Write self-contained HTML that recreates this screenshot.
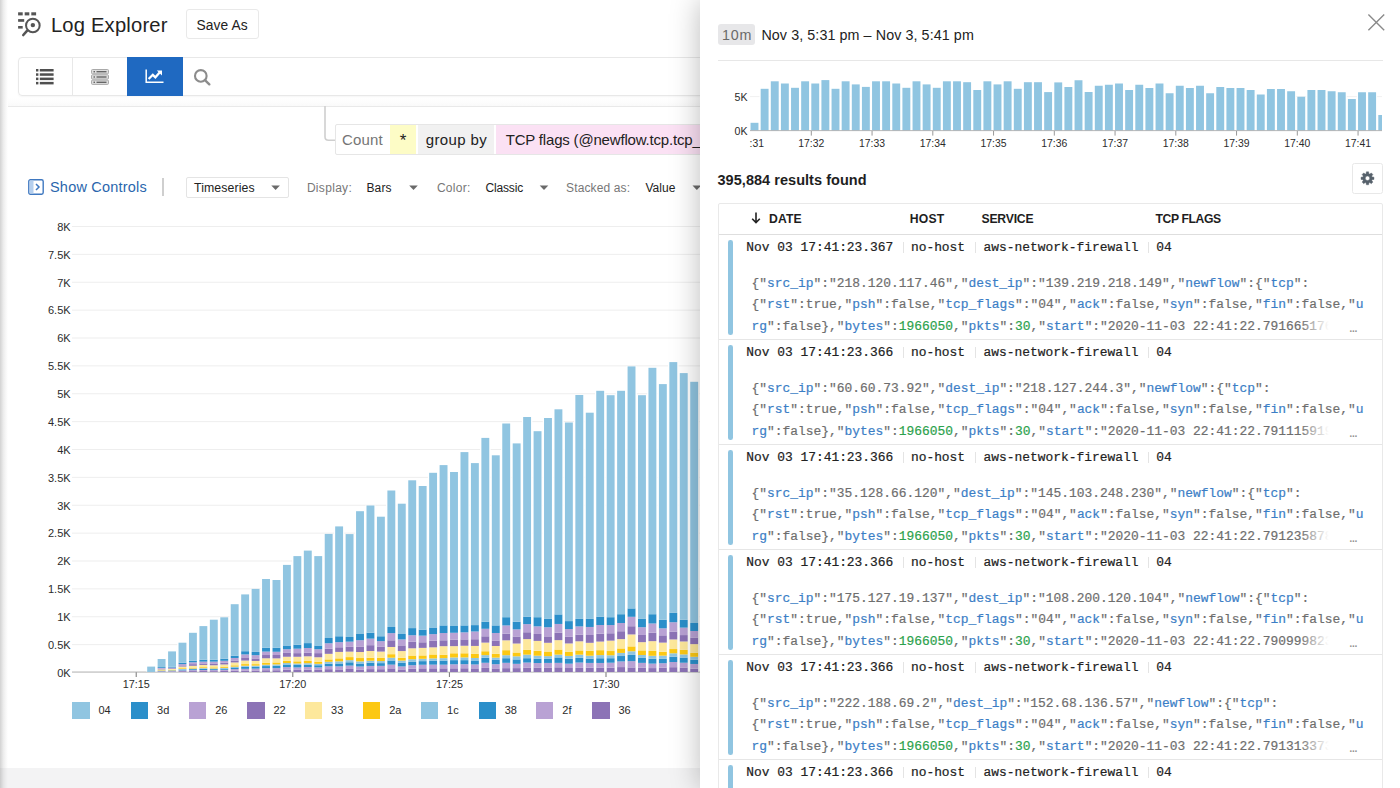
<!DOCTYPE html>
<html><head><meta charset="utf-8"><title>Log Explorer</title>
<style>
*{box-sizing:border-box;margin:0;padding:0}
html,body{width:1400px;height:788px;overflow:hidden;background:#fff}
body{font-family:"Liberation Sans",sans-serif;color:#222;position:relative}
.abs,.yl,.xl,.sw,.lt,.mxl{position:absolute}
.t{position:absolute;white-space:nowrap;line-height:1}
#left{position:absolute;left:0;top:0;width:700px;height:788px;overflow:hidden;background:#fff}
#edge{position:absolute;left:0;top:0;width:8px;height:788px;background:linear-gradient(90deg,#d2d2d2 0,#dedede 1.5px,#ededed 3.5px,#f8f8f8 6px,#fff 8px)}
#foot{position:absolute;left:0;top:767.5px;width:700px;height:21px;background:#f3f3f4}
.yl{left:20px;width:50.6px;text-align:right;font-size:11px;line-height:16px;color:#2b2b2b}
.xl{top:676.4px;width:60px;text-align:center;font-size:10.8px;line-height:16px;color:#2b2b2b}
.sw{top:702px;width:17.4px;height:17px}
.lt{top:702.4px;font-size:11px;line-height:16px;color:#2b2b2b}
#panel{position:absolute;left:700px;top:0;width:700px;height:788px;background:#fff;box-shadow:0 0 28px rgba(0,0,0,.27)}
.mxl{top:136px;width:60px;text-align:center;font-size:10.4px;line-height:16px;color:#2b2b2b}
.row{position:absolute;left:718.5px;width:663px;height:105px;border-bottom:1px solid #e6e6e6;font-family:"Liberation Mono",monospace;font-size:12.92px}
.rb{position:absolute;left:9.5px;top:5.3px;width:4.7px;height:94.8px;border-radius:2.3px;background:#90c5e1}
.rh span{position:absolute;top:5.8px;line-height:16px;white-space:pre;color:#222;-webkit-text-stroke:0.2px;margin-left:-718.5px}
.rh em{position:absolute;top:7.2px;height:11px;width:1px;background:#e4e4e4;margin-left:-718.5px}
.js{position:absolute;left:33px;white-space:pre;line-height:16px;color:#6e6e6e;-webkit-text-stroke:0.2px}
.js b{font-weight:normal;color:#3b7ec6}
.js i{font-style:normal;color:#2ca24d}
.row .js:nth-of-type(3){top:41.9px}
.row .js:nth-of-type(4){top:62.9px}
.row .js:nth-of-type(5){top:84.3px}
.fade{position:absolute;right:-2px;top:0;width:34px;height:18px;background:linear-gradient(90deg,rgba(255,255,255,0),#fff 85%)}
.ell{position:absolute;left:598px;top:2px;color:#888}
</style></head><body>
<div id="left">
<svg class="abs" style="left:0;top:0" width="700" height="788" viewBox="0 0 700 788">
<rect x="72" y="644.12" width="640" height="1" fill="#eeeeee"/><rect x="72" y="616.25" width="640" height="1" fill="#eeeeee"/><rect x="72" y="588.38" width="640" height="1" fill="#eeeeee"/><rect x="72" y="560.50" width="640" height="1" fill="#eeeeee"/><rect x="72" y="532.62" width="640" height="1" fill="#eeeeee"/><rect x="72" y="504.75" width="640" height="1" fill="#eeeeee"/><rect x="72" y="476.88" width="640" height="1" fill="#eeeeee"/><rect x="72" y="449.00" width="640" height="1" fill="#eeeeee"/><rect x="72" y="421.12" width="640" height="1" fill="#eeeeee"/><rect x="72" y="393.25" width="640" height="1" fill="#eeeeee"/><rect x="72" y="365.38" width="640" height="1" fill="#eeeeee"/><rect x="72" y="337.50" width="640" height="1" fill="#eeeeee"/><rect x="72" y="309.62" width="640" height="1" fill="#eeeeee"/><rect x="72" y="281.75" width="640" height="1" fill="#eeeeee"/><rect x="72" y="253.88" width="640" height="1" fill="#eeeeee"/><rect x="72" y="226.00" width="640" height="1" fill="#eeeeee"/><rect x="135.70" y="672" width="1" height="5" fill="#777"/><rect x="292.30" y="672" width="1" height="5" fill="#777"/><rect x="448.90" y="672" width="1" height="5" fill="#777"/><rect x="605.50" y="672" width="1" height="5" fill="#777"/>
<rect x="72" y="671.6" width="640" height="0.9" fill="#a6a6a6"/>
<rect x="145.90" y="666.60" width="10.54" height="4.80" fill="#fff"/><rect x="147.20" y="666.60" width="7.9" height="5.40" fill="#90c5e1"/><rect x="156.34" y="659.00" width="10.54" height="12.40" fill="#fff"/><rect x="157.64" y="671.62" width="7.9" height="0.38" fill="#8c73b6"/><rect x="157.64" y="671.23" width="7.9" height="0.39" fill="#b9a2d4"/><rect x="157.64" y="670.84" width="7.9" height="0.39" fill="#2b8fca"/><rect x="157.64" y="670.57" width="7.9" height="0.27" fill="#90c5e1"/><rect x="157.64" y="670.12" width="7.9" height="0.44" fill="#fcc813"/><rect x="157.64" y="669.37" width="7.9" height="0.76" fill="#fde89c"/><rect x="157.64" y="668.74" width="7.9" height="0.63" fill="#8c73b6"/><rect x="157.64" y="667.95" width="7.9" height="0.79" fill="#b9a2d4"/><rect x="157.64" y="667.10" width="7.9" height="0.85" fill="#2b8fca"/><rect x="157.64" y="659.00" width="7.9" height="8.10" fill="#90c5e1"/><rect x="166.79" y="651.40" width="10.54" height="20.00" fill="#fff"/><rect x="168.09" y="671.58" width="7.9" height="0.42" fill="#8c73b6"/><rect x="168.09" y="671.12" width="7.9" height="0.46" fill="#b9a2d4"/><rect x="168.09" y="670.59" width="7.9" height="0.53" fill="#2b8fca"/><rect x="168.09" y="670.32" width="7.9" height="0.27" fill="#90c5e1"/><rect x="168.09" y="669.84" width="7.9" height="0.48" fill="#fcc813"/><rect x="168.09" y="668.99" width="7.9" height="0.85" fill="#fde89c"/><rect x="168.09" y="668.32" width="7.9" height="0.66" fill="#8c73b6"/><rect x="168.09" y="667.58" width="7.9" height="0.75" fill="#b9a2d4"/><rect x="168.09" y="666.80" width="7.9" height="0.78" fill="#2b8fca"/><rect x="168.09" y="651.40" width="7.9" height="15.40" fill="#90c5e1"/><rect x="177.23" y="642.70" width="10.54" height="28.70" fill="#fff"/><rect x="178.53" y="671.19" width="7.9" height="0.81" fill="#8c73b6"/><rect x="178.53" y="670.41" width="7.9" height="0.78" fill="#b9a2d4"/><rect x="178.53" y="669.54" width="7.9" height="0.87" fill="#2b8fca"/><rect x="178.53" y="668.97" width="7.9" height="0.56" fill="#90c5e1"/><rect x="178.53" y="668.20" width="7.9" height="0.77" fill="#fcc813"/><rect x="178.53" y="666.55" width="7.9" height="1.65" fill="#fde89c"/><rect x="178.53" y="665.38" width="7.9" height="1.17" fill="#8c73b6"/><rect x="178.53" y="664.06" width="7.9" height="1.32" fill="#b9a2d4"/><rect x="178.53" y="662.70" width="7.9" height="1.36" fill="#2b8fca"/><rect x="178.53" y="642.70" width="7.9" height="20.00" fill="#90c5e1"/><rect x="187.67" y="632.80" width="10.54" height="38.60" fill="#fff"/><rect x="188.97" y="671.09" width="7.9" height="0.91" fill="#8c73b6"/><rect x="188.97" y="670.11" width="7.9" height="0.98" fill="#b9a2d4"/><rect x="188.97" y="669.16" width="7.9" height="0.95" fill="#2b8fca"/><rect x="188.97" y="668.51" width="7.9" height="0.65" fill="#90c5e1"/><rect x="188.97" y="667.60" width="7.9" height="0.92" fill="#fcc813"/><rect x="188.97" y="665.80" width="7.9" height="1.80" fill="#fde89c"/><rect x="188.97" y="664.14" width="7.9" height="1.66" fill="#8c73b6"/><rect x="188.97" y="662.31" width="7.9" height="1.83" fill="#b9a2d4"/><rect x="188.97" y="660.70" width="7.9" height="1.61" fill="#2b8fca"/><rect x="188.97" y="632.80" width="7.9" height="27.90" fill="#90c5e1"/><rect x="198.11" y="626.10" width="10.54" height="45.30" fill="#fff"/><rect x="199.41" y="671.06" width="7.9" height="0.94" fill="#8c73b6"/><rect x="199.41" y="669.99" width="7.9" height="1.06" fill="#b9a2d4"/><rect x="199.41" y="668.84" width="7.9" height="1.16" fill="#2b8fca"/><rect x="199.41" y="668.12" width="7.9" height="0.71" fill="#90c5e1"/><rect x="199.41" y="667.19" width="7.9" height="0.93" fill="#fcc813"/><rect x="199.41" y="664.93" width="7.9" height="2.27" fill="#fde89c"/><rect x="199.41" y="663.46" width="7.9" height="1.47" fill="#8c73b6"/><rect x="199.41" y="661.65" width="7.9" height="1.81" fill="#b9a2d4"/><rect x="199.41" y="659.70" width="7.9" height="1.95" fill="#2b8fca"/><rect x="199.41" y="626.10" width="7.9" height="33.60" fill="#90c5e1"/><rect x="208.56" y="619.70" width="10.54" height="51.70" fill="#fff"/><rect x="209.86" y="671.15" width="7.9" height="0.85" fill="#8c73b6"/><rect x="209.86" y="670.07" width="7.9" height="1.07" fill="#b9a2d4"/><rect x="209.86" y="669.13" width="7.9" height="0.95" fill="#2b8fca"/><rect x="209.86" y="668.42" width="7.9" height="0.71" fill="#90c5e1"/><rect x="209.86" y="667.35" width="7.9" height="1.07" fill="#fcc813"/><rect x="209.86" y="665.26" width="7.9" height="2.09" fill="#fde89c"/><rect x="209.86" y="663.44" width="7.9" height="1.82" fill="#8c73b6"/><rect x="209.86" y="661.65" width="7.9" height="1.79" fill="#b9a2d4"/><rect x="209.86" y="659.70" width="7.9" height="1.95" fill="#2b8fca"/><rect x="209.86" y="619.70" width="7.9" height="40.00" fill="#90c5e1"/><rect x="219.00" y="617.30" width="10.54" height="54.10" fill="#fff"/><rect x="220.30" y="670.96" width="7.9" height="1.04" fill="#8c73b6"/><rect x="220.30" y="669.79" width="7.9" height="1.18" fill="#b9a2d4"/><rect x="220.30" y="668.64" width="7.9" height="1.14" fill="#2b8fca"/><rect x="220.30" y="667.84" width="7.9" height="0.80" fill="#90c5e1"/><rect x="220.30" y="666.64" width="7.9" height="1.20" fill="#fcc813"/><rect x="220.30" y="664.45" width="7.9" height="2.19" fill="#fde89c"/><rect x="220.30" y="662.59" width="7.9" height="1.86" fill="#8c73b6"/><rect x="220.30" y="660.80" width="7.9" height="1.79" fill="#b9a2d4"/><rect x="220.30" y="658.70" width="7.9" height="2.10" fill="#2b8fca"/><rect x="220.30" y="617.30" width="7.9" height="41.40" fill="#90c5e1"/><rect x="229.44" y="604.20" width="10.54" height="67.20" fill="#fff"/><rect x="230.74" y="670.69" width="7.9" height="1.31" fill="#8c73b6"/><rect x="230.74" y="669.06" width="7.9" height="1.63" fill="#b9a2d4"/><rect x="230.74" y="667.49" width="7.9" height="1.57" fill="#2b8fca"/><rect x="230.74" y="666.62" width="7.9" height="0.87" fill="#90c5e1"/><rect x="230.74" y="665.32" width="7.9" height="1.31" fill="#fcc813"/><rect x="230.74" y="662.44" width="7.9" height="2.88" fill="#fde89c"/><rect x="230.74" y="660.48" width="7.9" height="1.96" fill="#8c73b6"/><rect x="230.74" y="657.98" width="7.9" height="2.50" fill="#b9a2d4"/><rect x="230.74" y="655.70" width="7.9" height="2.28" fill="#2b8fca"/><rect x="230.74" y="604.20" width="7.9" height="51.50" fill="#90c5e1"/><rect x="239.89" y="594.40" width="10.54" height="77.00" fill="#fff"/><rect x="241.19" y="670.51" width="7.9" height="1.49" fill="#8c73b6"/><rect x="241.19" y="668.84" width="7.9" height="1.67" fill="#b9a2d4"/><rect x="241.19" y="666.81" width="7.9" height="2.02" fill="#2b8fca"/><rect x="241.19" y="665.73" width="7.9" height="1.09" fill="#90c5e1"/><rect x="241.19" y="664.08" width="7.9" height="1.65" fill="#fcc813"/><rect x="241.19" y="660.57" width="7.9" height="3.51" fill="#fde89c"/><rect x="241.19" y="657.37" width="7.9" height="3.20" fill="#8c73b6"/><rect x="241.19" y="654.42" width="7.9" height="2.95" fill="#b9a2d4"/><rect x="241.19" y="651.20" width="7.9" height="3.22" fill="#2b8fca"/><rect x="241.19" y="594.40" width="7.9" height="56.80" fill="#90c5e1"/><rect x="250.33" y="588.90" width="10.54" height="82.50" fill="#fff"/><rect x="251.63" y="670.50" width="7.9" height="1.50" fill="#8c73b6"/><rect x="251.63" y="668.63" width="7.9" height="1.86" fill="#b9a2d4"/><rect x="251.63" y="666.80" width="7.9" height="1.84" fill="#2b8fca"/><rect x="251.63" y="665.62" width="7.9" height="1.18" fill="#90c5e1"/><rect x="251.63" y="664.13" width="7.9" height="1.49" fill="#fcc813"/><rect x="251.63" y="660.96" width="7.9" height="3.17" fill="#fde89c"/><rect x="251.63" y="658.44" width="7.9" height="2.52" fill="#8c73b6"/><rect x="251.63" y="655.18" width="7.9" height="3.26" fill="#b9a2d4"/><rect x="251.63" y="651.90" width="7.9" height="3.28" fill="#2b8fca"/><rect x="251.63" y="588.90" width="7.9" height="63.00" fill="#90c5e1"/><rect x="260.77" y="579.00" width="10.54" height="92.40" fill="#fff"/><rect x="262.07" y="670.21" width="7.9" height="1.79" fill="#8c73b6"/><rect x="262.07" y="668.16" width="7.9" height="2.06" fill="#b9a2d4"/><rect x="262.07" y="666.07" width="7.9" height="2.09" fill="#2b8fca"/><rect x="262.07" y="664.74" width="7.9" height="1.33" fill="#90c5e1"/><rect x="262.07" y="662.66" width="7.9" height="2.08" fill="#fcc813"/><rect x="262.07" y="658.27" width="7.9" height="4.38" fill="#fde89c"/><rect x="262.07" y="655.02" width="7.9" height="3.26" fill="#8c73b6"/><rect x="262.07" y="651.60" width="7.9" height="3.42" fill="#b9a2d4"/><rect x="262.07" y="647.80" width="7.9" height="3.80" fill="#2b8fca"/><rect x="262.07" y="579.00" width="7.9" height="68.80" fill="#90c5e1"/><rect x="271.22" y="580.00" width="10.54" height="91.40" fill="#fff"/><rect x="272.52" y="670.24" width="7.9" height="1.76" fill="#8c73b6"/><rect x="272.52" y="668.12" width="7.9" height="2.12" fill="#b9a2d4"/><rect x="272.52" y="665.79" width="7.9" height="2.33" fill="#2b8fca"/><rect x="272.52" y="664.40" width="7.9" height="1.39" fill="#90c5e1"/><rect x="272.52" y="662.45" width="7.9" height="1.95" fill="#fcc813"/><rect x="272.52" y="658.36" width="7.9" height="4.10" fill="#fde89c"/><rect x="272.52" y="654.99" width="7.9" height="3.37" fill="#8c73b6"/><rect x="272.52" y="651.77" width="7.9" height="3.22" fill="#b9a2d4"/><rect x="272.52" y="647.80" width="7.9" height="3.97" fill="#2b8fca"/><rect x="272.52" y="580.00" width="7.9" height="67.80" fill="#90c5e1"/><rect x="281.66" y="564.90" width="10.54" height="106.50" fill="#fff"/><rect x="282.96" y="669.75" width="7.9" height="2.25" fill="#8c73b6"/><rect x="282.96" y="667.11" width="7.9" height="2.64" fill="#b9a2d4"/><rect x="282.96" y="664.52" width="7.9" height="2.59" fill="#2b8fca"/><rect x="282.96" y="663.04" width="7.9" height="1.49" fill="#90c5e1"/><rect x="282.96" y="660.86" width="7.9" height="2.18" fill="#fcc813"/><rect x="282.96" y="656.75" width="7.9" height="4.11" fill="#fde89c"/><rect x="282.96" y="652.91" width="7.9" height="3.84" fill="#8c73b6"/><rect x="282.96" y="649.18" width="7.9" height="3.72" fill="#b9a2d4"/><rect x="282.96" y="645.50" width="7.9" height="3.68" fill="#2b8fca"/><rect x="282.96" y="564.90" width="7.9" height="80.60" fill="#90c5e1"/><rect x="292.10" y="556.10" width="10.54" height="115.30" fill="#fff"/><rect x="293.40" y="669.87" width="7.9" height="2.13" fill="#8c73b6"/><rect x="293.40" y="667.47" width="7.9" height="2.40" fill="#b9a2d4"/><rect x="293.40" y="664.95" width="7.9" height="2.52" fill="#2b8fca"/><rect x="293.40" y="663.47" width="7.9" height="1.48" fill="#90c5e1"/><rect x="293.40" y="661.34" width="7.9" height="2.13" fill="#fcc813"/><rect x="293.40" y="656.77" width="7.9" height="4.57" fill="#fde89c"/><rect x="293.40" y="653.13" width="7.9" height="3.64" fill="#8c73b6"/><rect x="293.40" y="648.68" width="7.9" height="4.44" fill="#b9a2d4"/><rect x="293.40" y="644.70" width="7.9" height="3.98" fill="#2b8fca"/><rect x="293.40" y="556.10" width="7.9" height="88.60" fill="#90c5e1"/><rect x="302.54" y="550.60" width="10.54" height="120.80" fill="#fff"/><rect x="303.84" y="669.58" width="7.9" height="2.42" fill="#8c73b6"/><rect x="303.84" y="666.99" width="7.9" height="2.59" fill="#b9a2d4"/><rect x="303.84" y="664.70" width="7.9" height="2.29" fill="#2b8fca"/><rect x="303.84" y="663.21" width="7.9" height="1.50" fill="#90c5e1"/><rect x="303.84" y="660.95" width="7.9" height="2.25" fill="#fcc813"/><rect x="303.84" y="656.32" width="7.9" height="4.64" fill="#fde89c"/><rect x="303.84" y="652.81" width="7.9" height="3.51" fill="#8c73b6"/><rect x="303.84" y="648.01" width="7.9" height="4.80" fill="#b9a2d4"/><rect x="303.84" y="643.10" width="7.9" height="4.91" fill="#2b8fca"/><rect x="303.84" y="550.60" width="7.9" height="92.50" fill="#90c5e1"/><rect x="312.99" y="556.10" width="10.54" height="115.30" fill="#fff"/><rect x="314.29" y="669.87" width="7.9" height="2.13" fill="#8c73b6"/><rect x="314.29" y="667.43" width="7.9" height="2.44" fill="#b9a2d4"/><rect x="314.29" y="665.24" width="7.9" height="2.19" fill="#2b8fca"/><rect x="314.29" y="663.84" width="7.9" height="1.40" fill="#90c5e1"/><rect x="314.29" y="661.64" width="7.9" height="2.19" fill="#fcc813"/><rect x="314.29" y="657.25" width="7.9" height="4.40" fill="#fde89c"/><rect x="314.29" y="653.13" width="7.9" height="4.12" fill="#8c73b6"/><rect x="314.29" y="649.21" width="7.9" height="3.92" fill="#b9a2d4"/><rect x="314.29" y="645.50" width="7.9" height="3.71" fill="#2b8fca"/><rect x="314.29" y="556.10" width="7.9" height="89.40" fill="#90c5e1"/><rect x="323.43" y="533.90" width="10.54" height="137.50" fill="#fff"/><rect x="324.73" y="669.17" width="7.9" height="2.83" fill="#8c73b6"/><rect x="324.73" y="666.25" width="7.9" height="2.92" fill="#b9a2d4"/><rect x="324.73" y="663.63" width="7.9" height="2.63" fill="#2b8fca"/><rect x="324.73" y="661.76" width="7.9" height="1.86" fill="#90c5e1"/><rect x="324.73" y="659.40" width="7.9" height="2.37" fill="#fcc813"/><rect x="324.73" y="653.83" width="7.9" height="5.57" fill="#fde89c"/><rect x="324.73" y="648.80" width="7.9" height="5.03" fill="#8c73b6"/><rect x="324.73" y="643.26" width="7.9" height="5.54" fill="#b9a2d4"/><rect x="324.73" y="638.00" width="7.9" height="5.26" fill="#2b8fca"/><rect x="324.73" y="533.90" width="7.9" height="104.10" fill="#90c5e1"/><rect x="333.87" y="526.40" width="10.54" height="145.00" fill="#fff"/><rect x="335.17" y="669.41" width="7.9" height="2.59" fill="#8c73b6"/><rect x="335.17" y="666.37" width="7.9" height="3.04" fill="#b9a2d4"/><rect x="335.17" y="663.49" width="7.9" height="2.88" fill="#2b8fca"/><rect x="335.17" y="661.34" width="7.9" height="2.15" fill="#90c5e1"/><rect x="335.17" y="658.37" width="7.9" height="2.96" fill="#fcc813"/><rect x="335.17" y="651.92" width="7.9" height="6.46" fill="#fde89c"/><rect x="335.17" y="647.26" width="7.9" height="4.66" fill="#8c73b6"/><rect x="335.17" y="642.14" width="7.9" height="5.12" fill="#b9a2d4"/><rect x="335.17" y="636.25" width="7.9" height="5.89" fill="#2b8fca"/><rect x="335.17" y="526.40" width="7.9" height="109.85" fill="#90c5e1"/><rect x="344.32" y="534.10" width="10.54" height="137.30" fill="#fff"/><rect x="345.62" y="668.96" width="7.9" height="3.04" fill="#8c73b6"/><rect x="345.62" y="665.60" width="7.9" height="3.36" fill="#b9a2d4"/><rect x="345.62" y="662.28" width="7.9" height="3.33" fill="#2b8fca"/><rect x="345.62" y="660.15" width="7.9" height="2.12" fill="#90c5e1"/><rect x="345.62" y="657.10" width="7.9" height="3.05" fill="#fcc813"/><rect x="345.62" y="651.64" width="7.9" height="5.46" fill="#fde89c"/><rect x="345.62" y="646.86" width="7.9" height="4.78" fill="#8c73b6"/><rect x="345.62" y="641.67" width="7.9" height="5.19" fill="#b9a2d4"/><rect x="345.62" y="637.00" width="7.9" height="4.67" fill="#2b8fca"/><rect x="345.62" y="534.10" width="7.9" height="102.90" fill="#90c5e1"/><rect x="354.76" y="511.20" width="10.54" height="160.20" fill="#fff"/><rect x="356.06" y="669.54" width="7.9" height="2.46" fill="#8c73b6"/><rect x="356.06" y="666.52" width="7.9" height="3.02" fill="#b9a2d4"/><rect x="356.06" y="663.52" width="7.9" height="3.00" fill="#2b8fca"/><rect x="356.06" y="661.38" width="7.9" height="2.14" fill="#90c5e1"/><rect x="356.06" y="658.04" width="7.9" height="3.34" fill="#fcc813"/><rect x="356.06" y="652.01" width="7.9" height="6.03" fill="#fde89c"/><rect x="356.06" y="646.50" width="7.9" height="5.51" fill="#8c73b6"/><rect x="356.06" y="640.19" width="7.9" height="6.32" fill="#b9a2d4"/><rect x="356.06" y="634.00" width="7.9" height="6.19" fill="#2b8fca"/><rect x="356.06" y="511.20" width="7.9" height="122.80" fill="#90c5e1"/><rect x="365.20" y="505.50" width="10.54" height="165.90" fill="#fff"/><rect x="366.50" y="669.11" width="7.9" height="2.89" fill="#8c73b6"/><rect x="366.50" y="665.93" width="7.9" height="3.18" fill="#b9a2d4"/><rect x="366.50" y="662.74" width="7.9" height="3.19" fill="#2b8fca"/><rect x="366.50" y="660.73" width="7.9" height="2.01" fill="#90c5e1"/><rect x="366.50" y="657.78" width="7.9" height="2.95" fill="#fcc813"/><rect x="366.50" y="651.02" width="7.9" height="6.76" fill="#fde89c"/><rect x="366.50" y="645.17" width="7.9" height="5.85" fill="#8c73b6"/><rect x="366.50" y="638.64" width="7.9" height="6.53" fill="#b9a2d4"/><rect x="366.50" y="632.75" width="7.9" height="5.89" fill="#2b8fca"/><rect x="366.50" y="505.50" width="7.9" height="127.25" fill="#90c5e1"/><rect x="375.65" y="516.70" width="10.54" height="154.70" fill="#fff"/><rect x="376.95" y="669.19" width="7.9" height="2.81" fill="#8c73b6"/><rect x="376.95" y="665.87" width="7.9" height="3.32" fill="#b9a2d4"/><rect x="376.95" y="663.12" width="7.9" height="2.75" fill="#2b8fca"/><rect x="376.95" y="661.07" width="7.9" height="2.04" fill="#90c5e1"/><rect x="376.95" y="657.89" width="7.9" height="3.18" fill="#fcc813"/><rect x="376.95" y="651.57" width="7.9" height="6.32" fill="#fde89c"/><rect x="376.95" y="646.50" width="7.9" height="5.08" fill="#8c73b6"/><rect x="376.95" y="641.13" width="7.9" height="5.37" fill="#b9a2d4"/><rect x="376.95" y="636.25" width="7.9" height="4.88" fill="#2b8fca"/><rect x="376.95" y="516.70" width="7.9" height="119.55" fill="#90c5e1"/><rect x="386.09" y="490.50" width="10.54" height="180.90" fill="#fff"/><rect x="387.39" y="668.35" width="7.9" height="3.65" fill="#8c73b6"/><rect x="387.39" y="664.65" width="7.9" height="3.71" fill="#b9a2d4"/><rect x="387.39" y="660.47" width="7.9" height="4.18" fill="#2b8fca"/><rect x="387.39" y="657.70" width="7.9" height="2.77" fill="#90c5e1"/><rect x="387.39" y="654.19" width="7.9" height="3.51" fill="#fcc813"/><rect x="387.39" y="646.98" width="7.9" height="7.21" fill="#fde89c"/><rect x="387.39" y="640.30" width="7.9" height="6.68" fill="#8c73b6"/><rect x="387.39" y="633.12" width="7.9" height="7.18" fill="#b9a2d4"/><rect x="387.39" y="627.00" width="7.9" height="6.12" fill="#2b8fca"/><rect x="387.39" y="490.50" width="7.9" height="136.50" fill="#90c5e1"/><rect x="396.53" y="503.70" width="10.54" height="167.70" fill="#fff"/><rect x="397.83" y="669.42" width="7.9" height="2.58" fill="#8c73b6"/><rect x="397.83" y="666.45" width="7.9" height="2.97" fill="#b9a2d4"/><rect x="397.83" y="662.84" width="7.9" height="3.61" fill="#2b8fca"/><rect x="397.83" y="660.59" width="7.9" height="2.25" fill="#90c5e1"/><rect x="397.83" y="657.83" width="7.9" height="2.76" fill="#fcc813"/><rect x="397.83" y="651.06" width="7.9" height="6.77" fill="#fde89c"/><rect x="397.83" y="645.38" width="7.9" height="5.68" fill="#8c73b6"/><rect x="397.83" y="639.42" width="7.9" height="5.95" fill="#b9a2d4"/><rect x="397.83" y="634.00" width="7.9" height="5.42" fill="#2b8fca"/><rect x="397.83" y="503.70" width="7.9" height="130.30" fill="#90c5e1"/><rect x="406.97" y="480.30" width="10.54" height="191.10" fill="#fff"/><rect x="408.27" y="668.65" width="7.9" height="3.35" fill="#8c73b6"/><rect x="408.27" y="665.23" width="7.9" height="3.42" fill="#b9a2d4"/><rect x="408.27" y="661.92" width="7.9" height="3.31" fill="#2b8fca"/><rect x="408.27" y="659.22" width="7.9" height="2.70" fill="#90c5e1"/><rect x="408.27" y="655.56" width="7.9" height="3.66" fill="#fcc813"/><rect x="408.27" y="648.28" width="7.9" height="7.27" fill="#fde89c"/><rect x="408.27" y="641.77" width="7.9" height="6.51" fill="#8c73b6"/><rect x="408.27" y="635.27" width="7.9" height="6.51" fill="#b9a2d4"/><rect x="408.27" y="628.10" width="7.9" height="7.17" fill="#2b8fca"/><rect x="408.27" y="480.30" width="7.9" height="147.80" fill="#90c5e1"/><rect x="417.42" y="486.00" width="10.54" height="185.40" fill="#fff"/><rect x="418.72" y="668.33" width="7.9" height="3.67" fill="#8c73b6"/><rect x="418.72" y="664.75" width="7.9" height="3.58" fill="#b9a2d4"/><rect x="418.72" y="661.13" width="7.9" height="3.62" fill="#2b8fca"/><rect x="418.72" y="658.80" width="7.9" height="2.33" fill="#90c5e1"/><rect x="418.72" y="655.43" width="7.9" height="3.36" fill="#fcc813"/><rect x="418.72" y="647.88" width="7.9" height="7.55" fill="#fde89c"/><rect x="418.72" y="642.27" width="7.9" height="5.61" fill="#8c73b6"/><rect x="418.72" y="635.64" width="7.9" height="6.63" fill="#b9a2d4"/><rect x="418.72" y="629.60" width="7.9" height="6.04" fill="#2b8fca"/><rect x="418.72" y="486.00" width="7.9" height="143.60" fill="#90c5e1"/><rect x="427.86" y="472.80" width="10.54" height="198.60" fill="#fff"/><rect x="429.16" y="668.31" width="7.9" height="3.69" fill="#8c73b6"/><rect x="429.16" y="664.64" width="7.9" height="3.67" fill="#b9a2d4"/><rect x="429.16" y="660.87" width="7.9" height="3.77" fill="#2b8fca"/><rect x="429.16" y="658.39" width="7.9" height="2.48" fill="#90c5e1"/><rect x="429.16" y="654.47" width="7.9" height="3.93" fill="#fcc813"/><rect x="429.16" y="647.34" width="7.9" height="7.13" fill="#fde89c"/><rect x="429.16" y="640.81" width="7.9" height="6.53" fill="#8c73b6"/><rect x="429.16" y="634.14" width="7.9" height="6.67" fill="#b9a2d4"/><rect x="429.16" y="627.50" width="7.9" height="6.64" fill="#2b8fca"/><rect x="429.16" y="472.80" width="7.9" height="154.70" fill="#90c5e1"/><rect x="438.30" y="465.10" width="10.54" height="206.30" fill="#fff"/><rect x="439.60" y="668.33" width="7.9" height="3.67" fill="#8c73b6"/><rect x="439.60" y="664.68" width="7.9" height="3.65" fill="#b9a2d4"/><rect x="439.60" y="660.57" width="7.9" height="4.11" fill="#2b8fca"/><rect x="439.60" y="658.14" width="7.9" height="2.44" fill="#90c5e1"/><rect x="439.60" y="654.75" width="7.9" height="3.39" fill="#fcc813"/><rect x="439.60" y="646.17" width="7.9" height="8.58" fill="#fde89c"/><rect x="439.60" y="640.27" width="7.9" height="5.90" fill="#8c73b6"/><rect x="439.60" y="633.03" width="7.9" height="7.25" fill="#b9a2d4"/><rect x="439.60" y="625.40" width="7.9" height="7.63" fill="#2b8fca"/><rect x="439.60" y="465.10" width="7.9" height="160.30" fill="#90c5e1"/><rect x="448.75" y="472.00" width="10.54" height="199.40" fill="#fff"/><rect x="450.05" y="668.30" width="7.9" height="3.70" fill="#8c73b6"/><rect x="450.05" y="664.32" width="7.9" height="3.98" fill="#b9a2d4"/><rect x="450.05" y="660.14" width="7.9" height="4.19" fill="#2b8fca"/><rect x="450.05" y="657.45" width="7.9" height="2.69" fill="#90c5e1"/><rect x="450.05" y="653.28" width="7.9" height="4.17" fill="#fcc813"/><rect x="450.05" y="646.14" width="7.9" height="7.14" fill="#fde89c"/><rect x="450.05" y="639.59" width="7.9" height="6.54" fill="#8c73b6"/><rect x="450.05" y="632.78" width="7.9" height="6.82" fill="#b9a2d4"/><rect x="450.05" y="626.00" width="7.9" height="6.78" fill="#2b8fca"/><rect x="450.05" y="472.00" width="7.9" height="154.00" fill="#90c5e1"/><rect x="459.19" y="452.10" width="10.54" height="219.30" fill="#fff"/><rect x="460.49" y="668.24" width="7.9" height="3.76" fill="#8c73b6"/><rect x="460.49" y="664.23" width="7.9" height="4.02" fill="#b9a2d4"/><rect x="460.49" y="660.15" width="7.9" height="4.07" fill="#2b8fca"/><rect x="460.49" y="657.43" width="7.9" height="2.72" fill="#90c5e1"/><rect x="460.49" y="653.29" width="7.9" height="4.14" fill="#fcc813"/><rect x="460.49" y="645.75" width="7.9" height="7.54" fill="#fde89c"/><rect x="460.49" y="639.37" width="7.9" height="6.38" fill="#8c73b6"/><rect x="460.49" y="632.35" width="7.9" height="7.03" fill="#b9a2d4"/><rect x="460.49" y="625.40" width="7.9" height="6.95" fill="#2b8fca"/><rect x="460.49" y="452.10" width="7.9" height="173.30" fill="#90c5e1"/><rect x="469.63" y="463.10" width="10.54" height="208.30" fill="#fff"/><rect x="470.93" y="668.37" width="7.9" height="3.63" fill="#8c73b6"/><rect x="470.93" y="664.46" width="7.9" height="3.90" fill="#b9a2d4"/><rect x="470.93" y="660.47" width="7.9" height="3.99" fill="#2b8fca"/><rect x="470.93" y="657.97" width="7.9" height="2.50" fill="#90c5e1"/><rect x="470.93" y="653.87" width="7.9" height="4.11" fill="#fcc813"/><rect x="470.93" y="645.93" width="7.9" height="7.94" fill="#fde89c"/><rect x="470.93" y="639.22" width="7.9" height="6.71" fill="#8c73b6"/><rect x="470.93" y="631.50" width="7.9" height="7.71" fill="#b9a2d4"/><rect x="470.93" y="625.10" width="7.9" height="6.40" fill="#2b8fca"/><rect x="470.93" y="463.10" width="7.9" height="162.00" fill="#90c5e1"/><rect x="480.08" y="437.90" width="10.54" height="233.50" fill="#fff"/><rect x="481.38" y="667.91" width="7.9" height="4.09" fill="#8c73b6"/><rect x="481.38" y="662.78" width="7.9" height="5.13" fill="#b9a2d4"/><rect x="481.38" y="657.77" width="7.9" height="5.01" fill="#2b8fca"/><rect x="481.38" y="655.12" width="7.9" height="2.65" fill="#90c5e1"/><rect x="481.38" y="651.25" width="7.9" height="3.87" fill="#fcc813"/><rect x="481.38" y="642.60" width="7.9" height="8.65" fill="#fde89c"/><rect x="481.38" y="636.28" width="7.9" height="6.32" fill="#8c73b6"/><rect x="481.38" y="628.77" width="7.9" height="7.51" fill="#b9a2d4"/><rect x="481.38" y="621.70" width="7.9" height="7.07" fill="#2b8fca"/><rect x="481.38" y="437.90" width="7.9" height="183.80" fill="#90c5e1"/><rect x="490.52" y="455.30" width="10.54" height="216.10" fill="#fff"/><rect x="491.82" y="668.42" width="7.9" height="3.58" fill="#8c73b6"/><rect x="491.82" y="664.22" width="7.9" height="4.20" fill="#b9a2d4"/><rect x="491.82" y="659.90" width="7.9" height="4.32" fill="#2b8fca"/><rect x="491.82" y="657.64" width="7.9" height="2.27" fill="#90c5e1"/><rect x="491.82" y="653.78" width="7.9" height="3.85" fill="#fcc813"/><rect x="491.82" y="646.00" width="7.9" height="7.78" fill="#fde89c"/><rect x="491.82" y="640.51" width="7.9" height="5.49" fill="#8c73b6"/><rect x="491.82" y="632.98" width="7.9" height="7.53" fill="#b9a2d4"/><rect x="491.82" y="625.40" width="7.9" height="7.58" fill="#2b8fca"/><rect x="491.82" y="455.30" width="7.9" height="170.10" fill="#90c5e1"/><rect x="500.96" y="423.50" width="10.54" height="247.90" fill="#fff"/><rect x="502.26" y="668.14" width="7.9" height="3.86" fill="#8c73b6"/><rect x="502.26" y="662.83" width="7.9" height="5.31" fill="#b9a2d4"/><rect x="502.26" y="658.20" width="7.9" height="4.63" fill="#2b8fca"/><rect x="502.26" y="655.18" width="7.9" height="3.02" fill="#90c5e1"/><rect x="502.26" y="650.19" width="7.9" height="5.00" fill="#fcc813"/><rect x="502.26" y="640.32" width="7.9" height="9.86" fill="#fde89c"/><rect x="502.26" y="633.62" width="7.9" height="6.70" fill="#8c73b6"/><rect x="502.26" y="625.45" width="7.9" height="8.17" fill="#b9a2d4"/><rect x="502.26" y="617.20" width="7.9" height="8.25" fill="#2b8fca"/><rect x="502.26" y="423.50" width="7.9" height="193.70" fill="#90c5e1"/><rect x="511.40" y="443.40" width="10.54" height="228.00" fill="#fff"/><rect x="512.70" y="668.11" width="7.9" height="3.89" fill="#8c73b6"/><rect x="512.70" y="663.84" width="7.9" height="4.27" fill="#b9a2d4"/><rect x="512.70" y="659.42" width="7.9" height="4.42" fill="#2b8fca"/><rect x="512.70" y="656.29" width="7.9" height="3.12" fill="#90c5e1"/><rect x="512.70" y="652.51" width="7.9" height="3.78" fill="#fcc813"/><rect x="512.70" y="643.53" width="7.9" height="8.98" fill="#fde89c"/><rect x="512.70" y="636.47" width="7.9" height="7.06" fill="#8c73b6"/><rect x="512.70" y="629.36" width="7.9" height="7.10" fill="#b9a2d4"/><rect x="512.70" y="621.70" width="7.9" height="7.66" fill="#2b8fca"/><rect x="512.70" y="443.40" width="7.9" height="178.30" fill="#90c5e1"/><rect x="521.85" y="417.00" width="10.54" height="254.40" fill="#fff"/><rect x="523.15" y="667.53" width="7.9" height="4.47" fill="#8c73b6"/><rect x="523.15" y="662.57" width="7.9" height="4.96" fill="#b9a2d4"/><rect x="523.15" y="658.19" width="7.9" height="4.38" fill="#2b8fca"/><rect x="523.15" y="654.65" width="7.9" height="3.54" fill="#90c5e1"/><rect x="523.15" y="649.69" width="7.9" height="4.95" fill="#fcc813"/><rect x="523.15" y="639.10" width="7.9" height="10.60" fill="#fde89c"/><rect x="523.15" y="632.24" width="7.9" height="6.86" fill="#8c73b6"/><rect x="523.15" y="624.12" width="7.9" height="8.12" fill="#b9a2d4"/><rect x="523.15" y="616.60" width="7.9" height="7.52" fill="#2b8fca"/><rect x="523.15" y="417.00" width="7.9" height="199.60" fill="#90c5e1"/><rect x="532.29" y="431.20" width="10.54" height="240.20" fill="#fff"/><rect x="533.59" y="667.51" width="7.9" height="4.49" fill="#8c73b6"/><rect x="533.59" y="663.02" width="7.9" height="4.50" fill="#b9a2d4"/><rect x="533.59" y="658.69" width="7.9" height="4.32" fill="#2b8fca"/><rect x="533.59" y="655.71" width="7.9" height="2.98" fill="#90c5e1"/><rect x="533.59" y="650.78" width="7.9" height="4.93" fill="#fcc813"/><rect x="533.59" y="640.89" width="7.9" height="9.89" fill="#fde89c"/><rect x="533.59" y="633.97" width="7.9" height="6.93" fill="#8c73b6"/><rect x="533.59" y="626.36" width="7.9" height="7.61" fill="#b9a2d4"/><rect x="533.59" y="617.20" width="7.9" height="9.16" fill="#2b8fca"/><rect x="533.59" y="431.20" width="7.9" height="186.00" fill="#90c5e1"/><rect x="542.73" y="418.00" width="10.54" height="253.40" fill="#fff"/><rect x="544.03" y="667.83" width="7.9" height="4.17" fill="#8c73b6"/><rect x="544.03" y="662.92" width="7.9" height="4.92" fill="#b9a2d4"/><rect x="544.03" y="658.74" width="7.9" height="4.18" fill="#2b8fca"/><rect x="544.03" y="656.11" width="7.9" height="2.63" fill="#90c5e1"/><rect x="544.03" y="651.54" width="7.9" height="4.57" fill="#fcc813"/><rect x="544.03" y="642.79" width="7.9" height="8.75" fill="#fde89c"/><rect x="544.03" y="636.37" width="7.9" height="6.42" fill="#8c73b6"/><rect x="544.03" y="627.26" width="7.9" height="9.11" fill="#b9a2d4"/><rect x="544.03" y="618.90" width="7.9" height="8.36" fill="#2b8fca"/><rect x="544.03" y="418.00" width="7.9" height="200.90" fill="#90c5e1"/><rect x="553.18" y="409.30" width="10.54" height="262.10" fill="#fff"/><rect x="554.48" y="667.30" width="7.9" height="4.70" fill="#8c73b6"/><rect x="554.48" y="662.86" width="7.9" height="4.44" fill="#b9a2d4"/><rect x="554.48" y="657.43" width="7.9" height="5.44" fill="#2b8fca"/><rect x="554.48" y="654.62" width="7.9" height="2.81" fill="#90c5e1"/><rect x="554.48" y="649.54" width="7.9" height="5.08" fill="#fcc813"/><rect x="554.48" y="640.15" width="7.9" height="9.39" fill="#fde89c"/><rect x="554.48" y="632.78" width="7.9" height="7.37" fill="#8c73b6"/><rect x="554.48" y="623.95" width="7.9" height="8.83" fill="#b9a2d4"/><rect x="554.48" y="614.40" width="7.9" height="9.55" fill="#2b8fca"/><rect x="554.48" y="409.30" width="7.9" height="205.10" fill="#90c5e1"/><rect x="563.62" y="422.50" width="10.54" height="248.90" fill="#fff"/><rect x="564.92" y="668.02" width="7.9" height="3.98" fill="#8c73b6"/><rect x="564.92" y="663.65" width="7.9" height="4.37" fill="#b9a2d4"/><rect x="564.92" y="658.79" width="7.9" height="4.87" fill="#2b8fca"/><rect x="564.92" y="655.92" width="7.9" height="2.87" fill="#90c5e1"/><rect x="564.92" y="651.87" width="7.9" height="4.05" fill="#fcc813"/><rect x="564.92" y="643.45" width="7.9" height="8.42" fill="#fde89c"/><rect x="564.92" y="636.85" width="7.9" height="6.60" fill="#8c73b6"/><rect x="564.92" y="629.04" width="7.9" height="7.81" fill="#b9a2d4"/><rect x="564.92" y="621.10" width="7.9" height="7.94" fill="#2b8fca"/><rect x="564.92" y="422.50" width="7.9" height="198.60" fill="#90c5e1"/><rect x="574.06" y="395.00" width="10.54" height="276.40" fill="#fff"/><rect x="575.36" y="667.86" width="7.9" height="4.14" fill="#8c73b6"/><rect x="575.36" y="662.55" width="7.9" height="5.31" fill="#b9a2d4"/><rect x="575.36" y="657.84" width="7.9" height="4.71" fill="#2b8fca"/><rect x="575.36" y="654.67" width="7.9" height="3.17" fill="#90c5e1"/><rect x="575.36" y="650.42" width="7.9" height="4.25" fill="#fcc813"/><rect x="575.36" y="641.30" width="7.9" height="9.13" fill="#fde89c"/><rect x="575.36" y="634.56" width="7.9" height="6.73" fill="#8c73b6"/><rect x="575.36" y="626.42" width="7.9" height="8.15" fill="#b9a2d4"/><rect x="575.36" y="618.90" width="7.9" height="7.52" fill="#2b8fca"/><rect x="575.36" y="395.00" width="7.9" height="223.90" fill="#90c5e1"/><rect x="584.51" y="412.70" width="10.54" height="258.70" fill="#fff"/><rect x="585.81" y="667.66" width="7.9" height="4.34" fill="#8c73b6"/><rect x="585.81" y="662.93" width="7.9" height="4.74" fill="#b9a2d4"/><rect x="585.81" y="658.63" width="7.9" height="4.30" fill="#2b8fca"/><rect x="585.81" y="655.68" width="7.9" height="2.95" fill="#90c5e1"/><rect x="585.81" y="650.83" width="7.9" height="4.85" fill="#fcc813"/><rect x="585.81" y="642.82" width="7.9" height="8.01" fill="#fde89c"/><rect x="585.81" y="635.00" width="7.9" height="7.82" fill="#8c73b6"/><rect x="585.81" y="626.96" width="7.9" height="8.03" fill="#b9a2d4"/><rect x="585.81" y="618.90" width="7.9" height="8.06" fill="#2b8fca"/><rect x="585.81" y="412.70" width="7.9" height="206.20" fill="#90c5e1"/><rect x="594.95" y="390.80" width="10.54" height="280.60" fill="#fff"/><rect x="596.25" y="667.53" width="7.9" height="4.47" fill="#8c73b6"/><rect x="596.25" y="662.96" width="7.9" height="4.57" fill="#b9a2d4"/><rect x="596.25" y="658.25" width="7.9" height="4.71" fill="#2b8fca"/><rect x="596.25" y="655.11" width="7.9" height="3.14" fill="#90c5e1"/><rect x="596.25" y="650.18" width="7.9" height="4.93" fill="#fcc813"/><rect x="596.25" y="641.57" width="7.9" height="8.61" fill="#fde89c"/><rect x="596.25" y="633.68" width="7.9" height="7.89" fill="#8c73b6"/><rect x="596.25" y="625.01" width="7.9" height="8.67" fill="#b9a2d4"/><rect x="596.25" y="616.60" width="7.9" height="8.41" fill="#2b8fca"/><rect x="596.25" y="390.80" width="7.9" height="225.80" fill="#90c5e1"/><rect x="605.39" y="395.20" width="10.54" height="276.20" fill="#fff"/><rect x="606.69" y="667.64" width="7.9" height="4.36" fill="#8c73b6"/><rect x="606.69" y="662.72" width="7.9" height="4.91" fill="#b9a2d4"/><rect x="606.69" y="658.20" width="7.9" height="4.52" fill="#2b8fca"/><rect x="606.69" y="655.26" width="7.9" height="2.94" fill="#90c5e1"/><rect x="606.69" y="651.03" width="7.9" height="4.23" fill="#fcc813"/><rect x="606.69" y="640.65" width="7.9" height="10.38" fill="#fde89c"/><rect x="606.69" y="633.25" width="7.9" height="7.40" fill="#8c73b6"/><rect x="606.69" y="625.08" width="7.9" height="8.17" fill="#b9a2d4"/><rect x="606.69" y="617.20" width="7.9" height="7.88" fill="#2b8fca"/><rect x="606.69" y="395.20" width="7.9" height="222.00" fill="#90c5e1"/><rect x="615.84" y="390.80" width="10.54" height="280.60" fill="#fff"/><rect x="617.13" y="667.08" width="7.9" height="4.92" fill="#8c73b6"/><rect x="617.13" y="661.42" width="7.9" height="5.66" fill="#b9a2d4"/><rect x="617.13" y="656.03" width="7.9" height="5.39" fill="#2b8fca"/><rect x="617.13" y="652.93" width="7.9" height="3.10" fill="#90c5e1"/><rect x="617.13" y="648.44" width="7.9" height="4.49" fill="#fcc813"/><rect x="617.13" y="639.12" width="7.9" height="9.33" fill="#fde89c"/><rect x="617.13" y="631.22" width="7.9" height="7.89" fill="#8c73b6"/><rect x="617.13" y="622.99" width="7.9" height="8.23" fill="#b9a2d4"/><rect x="617.13" y="614.20" width="7.9" height="8.79" fill="#2b8fca"/><rect x="617.13" y="390.80" width="7.9" height="223.40" fill="#90c5e1"/><rect x="626.28" y="366.40" width="10.54" height="305.00" fill="#fff"/><rect x="627.58" y="667.41" width="7.9" height="4.59" fill="#8c73b6"/><rect x="627.58" y="661.15" width="7.9" height="6.26" fill="#b9a2d4"/><rect x="627.58" y="654.87" width="7.9" height="6.28" fill="#2b8fca"/><rect x="627.58" y="651.27" width="7.9" height="3.60" fill="#90c5e1"/><rect x="627.58" y="646.40" width="7.9" height="4.86" fill="#fcc813"/><rect x="627.58" y="634.44" width="7.9" height="11.97" fill="#fde89c"/><rect x="627.58" y="626.22" width="7.9" height="8.21" fill="#8c73b6"/><rect x="627.58" y="616.80" width="7.9" height="9.42" fill="#b9a2d4"/><rect x="627.58" y="608.40" width="7.9" height="8.40" fill="#2b8fca"/><rect x="627.58" y="366.40" width="7.9" height="242.00" fill="#90c5e1"/><rect x="636.72" y="395.20" width="10.54" height="276.20" fill="#fff"/><rect x="638.02" y="667.80" width="7.9" height="4.20" fill="#8c73b6"/><rect x="638.02" y="662.88" width="7.9" height="4.92" fill="#b9a2d4"/><rect x="638.02" y="657.92" width="7.9" height="4.96" fill="#2b8fca"/><rect x="638.02" y="655.02" width="7.9" height="2.91" fill="#90c5e1"/><rect x="638.02" y="650.40" width="7.9" height="4.62" fill="#fcc813"/><rect x="638.02" y="642.16" width="7.9" height="8.24" fill="#fde89c"/><rect x="638.02" y="634.97" width="7.9" height="7.18" fill="#8c73b6"/><rect x="638.02" y="627.23" width="7.9" height="7.74" fill="#b9a2d4"/><rect x="638.02" y="618.90" width="7.9" height="8.33" fill="#2b8fca"/><rect x="638.02" y="395.20" width="7.9" height="223.70" fill="#90c5e1"/><rect x="647.16" y="367.80" width="10.54" height="303.60" fill="#fff"/><rect x="648.46" y="668.08" width="7.9" height="3.92" fill="#8c73b6"/><rect x="648.46" y="663.62" width="7.9" height="4.46" fill="#b9a2d4"/><rect x="648.46" y="658.79" width="7.9" height="4.83" fill="#2b8fca"/><rect x="648.46" y="655.77" width="7.9" height="3.01" fill="#90c5e1"/><rect x="648.46" y="650.93" width="7.9" height="4.85" fill="#fcc813"/><rect x="648.46" y="641.14" width="7.9" height="9.79" fill="#fde89c"/><rect x="648.46" y="632.76" width="7.9" height="8.38" fill="#8c73b6"/><rect x="648.46" y="623.49" width="7.9" height="9.27" fill="#b9a2d4"/><rect x="648.46" y="614.20" width="7.9" height="9.29" fill="#2b8fca"/><rect x="648.46" y="367.80" width="7.9" height="246.40" fill="#90c5e1"/><rect x="657.61" y="384.10" width="10.54" height="287.30" fill="#fff"/><rect x="658.91" y="667.63" width="7.9" height="4.37" fill="#8c73b6"/><rect x="658.91" y="663.22" width="7.9" height="4.41" fill="#b9a2d4"/><rect x="658.91" y="658.89" width="7.9" height="4.34" fill="#2b8fca"/><rect x="658.91" y="655.63" width="7.9" height="3.25" fill="#90c5e1"/><rect x="658.91" y="651.79" width="7.9" height="3.85" fill="#fcc813"/><rect x="658.91" y="642.61" width="7.9" height="9.18" fill="#fde89c"/><rect x="658.91" y="635.33" width="7.9" height="7.28" fill="#8c73b6"/><rect x="658.91" y="628.33" width="7.9" height="7.00" fill="#b9a2d4"/><rect x="658.91" y="619.80" width="7.9" height="8.53" fill="#2b8fca"/><rect x="658.91" y="384.10" width="7.9" height="235.70" fill="#90c5e1"/><rect x="668.05" y="362.10" width="10.54" height="309.30" fill="#fff"/><rect x="669.35" y="667.18" width="7.9" height="4.82" fill="#8c73b6"/><rect x="669.35" y="662.02" width="7.9" height="5.16" fill="#b9a2d4"/><rect x="669.35" y="656.72" width="7.9" height="5.30" fill="#2b8fca"/><rect x="669.35" y="653.28" width="7.9" height="3.44" fill="#90c5e1"/><rect x="669.35" y="649.06" width="7.9" height="4.22" fill="#fcc813"/><rect x="669.35" y="639.46" width="7.9" height="9.60" fill="#fde89c"/><rect x="669.35" y="631.72" width="7.9" height="7.73" fill="#8c73b6"/><rect x="669.35" y="622.22" width="7.9" height="9.51" fill="#b9a2d4"/><rect x="669.35" y="612.90" width="7.9" height="9.32" fill="#2b8fca"/><rect x="669.35" y="362.10" width="7.9" height="250.80" fill="#90c5e1"/><rect x="678.49" y="373.10" width="10.54" height="298.30" fill="#fff"/><rect x="679.79" y="667.54" width="7.9" height="4.46" fill="#8c73b6"/><rect x="679.79" y="662.73" width="7.9" height="4.81" fill="#b9a2d4"/><rect x="679.79" y="657.55" width="7.9" height="5.18" fill="#2b8fca"/><rect x="679.79" y="654.41" width="7.9" height="3.14" fill="#90c5e1"/><rect x="679.79" y="649.81" width="7.9" height="4.60" fill="#fcc813"/><rect x="679.79" y="641.46" width="7.9" height="8.35" fill="#fde89c"/><rect x="679.79" y="635.08" width="7.9" height="6.38" fill="#8c73b6"/><rect x="679.79" y="627.63" width="7.9" height="7.45" fill="#b9a2d4"/><rect x="679.79" y="619.80" width="7.9" height="7.83" fill="#2b8fca"/><rect x="679.79" y="373.10" width="7.9" height="246.70" fill="#90c5e1"/><rect x="688.94" y="381.80" width="10.54" height="289.60" fill="#fff"/><rect x="690.24" y="668.63" width="7.9" height="3.37" fill="#8c73b6"/><rect x="690.24" y="663.97" width="7.9" height="4.66" fill="#b9a2d4"/><rect x="690.24" y="659.62" width="7.9" height="4.35" fill="#2b8fca"/><rect x="690.24" y="656.81" width="7.9" height="2.82" fill="#90c5e1"/><rect x="690.24" y="652.68" width="7.9" height="4.12" fill="#fcc813"/><rect x="690.24" y="644.11" width="7.9" height="8.57" fill="#fde89c"/><rect x="690.24" y="637.51" width="7.9" height="6.61" fill="#8c73b6"/><rect x="690.24" y="630.98" width="7.9" height="6.53" fill="#b9a2d4"/><rect x="690.24" y="623.00" width="7.9" height="7.98" fill="#2b8fca"/><rect x="690.24" y="381.80" width="7.9" height="241.20" fill="#90c5e1"/>
</svg>
<div class="yl" style="top:664.80px">0K</div><div class="yl" style="top:636.92px">0.5K</div><div class="yl" style="top:609.05px">1K</div><div class="yl" style="top:581.17px">1.5K</div><div class="yl" style="top:553.30px">2K</div><div class="yl" style="top:525.42px">2.5K</div><div class="yl" style="top:497.55px">3K</div><div class="yl" style="top:469.68px">3.5K</div><div class="yl" style="top:441.80px">4K</div><div class="yl" style="top:413.93px">4.5K</div><div class="yl" style="top:386.05px">5K</div><div class="yl" style="top:358.18px">5.5K</div><div class="yl" style="top:330.30px">6K</div><div class="yl" style="top:302.43px">6.5K</div><div class="yl" style="top:274.55px">7K</div><div class="yl" style="top:246.68px">7.5K</div><div class="yl" style="top:218.80px">8K</div>
<div class="xl" style="left:106.20px">17:15</div><div class="xl" style="left:262.80px">17:20</div><div class="xl" style="left:419.40px">17:25</div><div class="xl" style="left:576.00px">17:30</div>
<div class="sw" style="left:72.2px;background:#90c5e1"></div><div class="lt" style="left:98.4px">04</div><div class="sw" style="left:130.9px;background:#2b8fca"></div><div class="lt" style="left:157.1px">3d</div><div class="sw" style="left:189.0px;background:#b9a2d4"></div><div class="lt" style="left:215.2px">26</div><div class="sw" style="left:247.3px;background:#8c73b6"></div><div class="lt" style="left:273.5px">22</div><div class="sw" style="left:304.9px;background:#fde89c"></div><div class="lt" style="left:331.1px">33</div><div class="sw" style="left:363.0px;background:#fcc813"></div><div class="lt" style="left:389.2px">2a</div><div class="sw" style="left:420.9px;background:#90c5e1"></div><div class="lt" style="left:447.1px">1c</div><div class="sw" style="left:478.5px;background:#2b8fca"></div><div class="lt" style="left:504.7px">38</div><div class="sw" style="left:536.1px;background:#b9a2d4"></div><div class="lt" style="left:562.3px">2f</div><div class="sw" style="left:592.3px;background:#8c73b6"></div><div class="lt" style="left:618.5px">36</div>

<!-- header -->
<svg class="abs" style="left:16px;top:10px" width="28" height="28" viewBox="16 10 28 28" fill="none" stroke="#555">
<circle cx="32.85" cy="25.45" r="6.8" stroke-width="2"/><circle cx="32.85" cy="25.1" r="2.2" fill="#555" stroke="none"/>
<path d="M27.2 30.6L23.3 35" stroke-width="2.6" stroke-linecap="round"/>
<g fill="#555" stroke="none"><rect x="18.1" y="12.3" width="4.6" height="3.1"/><rect x="24.7" y="12.3" width="4.6" height="3.1"/><rect x="31.3" y="12.3" width="4.8" height="3.1"/>
<rect x="18.1" y="19.1" width="6.1" height="2.7"/><rect x="18.1" y="26" width="4.6" height="2.6"/></g>
</svg>
<div class="t" id="ttl" style="left:50.9px;top:14.53px;font-size:20.2px;letter-spacing:0.191px;color:#222">Log Explorer</div>
<div class="abs" style="left:185.6px;top:9.2px;width:73.6px;height:29.8px;border:1px solid #e9e9e9;border-radius:3px"></div>
<div class="t" id="sav" style="left:196.5px;top:18.57px;font-size:13.8px;letter-spacing:0.083px;color:#222">Save As</div>

<!-- toolbar -->
<div class="abs" style="left:17.5px;top:57px;width:700px;height:39px;border:1px solid #e8e8e8;border-radius:4px;box-shadow:0 1px 2px rgba(0,0,0,.04)"></div>
<div class="abs" style="left:72px;top:58px;width:1px;height:37px;background:#e8e8e8"></div>
<div class="abs" style="left:127px;top:57px;width:56px;height:39px;background:#1f69c1"></div>
<svg class="abs" style="left:36.3px;top:68.8px" width="18" height="16" viewBox="0 0 18 16" fill="#4f4f4f">
<rect x="0" y="0" width="2.4" height="2.5"/><rect x="3.8" y="0" width="13.8" height="2.5"/>
<rect x="0" y="4.3" width="2.4" height="2.5"/><rect x="3.8" y="4.3" width="13.8" height="2.5"/>
<rect x="0" y="8.6" width="2.4" height="2.5"/><rect x="3.8" y="8.6" width="13.8" height="2.5"/>
<rect x="0" y="12.9" width="2.4" height="2.5"/><rect x="3.8" y="12.9" width="13.8" height="2.5"/>
</svg>
<svg class="abs" style="left:91px;top:68.5px" width="18" height="16" viewBox="0 0 18 16">
<rect x="0.5" y="0.5" width="17" height="4.3" rx="1" fill="#dedede" stroke="#a9a9a9"/>
<rect x="0.5" y="5.8" width="17" height="4.3" rx="1" fill="#dedede" stroke="#a9a9a9"/>
<rect x="0.5" y="11.1" width="17" height="4.3" rx="1" fill="#dedede" stroke="#a9a9a9"/>
<rect x="2.5" y="2" width="1.5" height="1.4" fill="#666"/><rect x="5.5" y="2" width="10" height="1.4" fill="#666"/>
<rect x="2.5" y="7.3" width="1.5" height="1.4" fill="#666"/><rect x="5.5" y="7.3" width="10" height="1.4" fill="#666"/>
<rect x="2.5" y="12.6" width="1.5" height="1.4" fill="#666"/><rect x="5.5" y="12.6" width="10" height="1.4" fill="#666"/>
</svg>
<svg class="abs" style="left:145px;top:69px" width="19" height="15" viewBox="0 0 19 15" fill="none" stroke="#fff" stroke-width="1.5">
<path d="M1.2 0.5V13.2H18.5"/><path d="M3.6 10L7.8 5.8L10.4 8.3L14.6 3.6" stroke-width="2.3"/><path d="M11.8 1.4H17V6.6z" fill="#fff" stroke="none"/>
</svg>
<svg class="abs" style="left:193px;top:68.2px" width="18" height="18" viewBox="0 0 18 18" fill="none" stroke="#8c8c8c" stroke-width="2.1">
<circle cx="7.8" cy="7.9" r="5.8"/><path d="M12 12.1L16.300 16.400" stroke-linecap="round" stroke-width="2.3"/>
</svg>

<!-- separator line -->
<div class="abs" style="left:0;top:98px;width:700px;height:8px;background:linear-gradient(180deg,#fff,#fafafa)"></div>
<div class="abs" style="left:0;top:105.5px;width:700px;height:1px;background:#e9e9e9"></div>
<svg class="abs" style="left:320px;top:106px" width="16" height="36" viewBox="0 0 16 36" fill="none" stroke="#cfcfcf" stroke-width="1.6">
<path d="M5 0V30.700Q5 34.200 8.500 34.200H15.500"/>
</svg>

<!-- query row -->
<div class="abs" style="left:335.2px;top:124px;width:400px;height:30.9px;border:1px solid #e6e6e6;border-radius:2px;background:#fff"></div>
<div class="abs" style="left:389.7px;top:125px;width:26.5px;height:28.9px;background:#fdfcc6"></div>
<div class="abs" style="left:417.9px;top:125px;width:75.8px;height:28.9px;background:#f1f1f1"></div>
<div class="abs" style="left:495.8px;top:125px;width:240px;height:28.9px;background:#fbe1f4"></div>
<div class="t" id="cnt" style="left:341.9px;top:131.65px;font-size:15px;letter-spacing:0.175px;color:#757575">Count</div>
<div class="t" id="star" style="left:399.8px;top:131.6px;font-size:17px;color:#222">*</div>
<div class="t" id="grp" style="left:425.7px;top:131.65px;font-size:15px;letter-spacing:0.386px;color:#222">group by</div>
<div class="t" id="tcp" style="left:505.7px;top:131.65px;font-size:15px;letter-spacing:-0.185px;color:#222">TCP flags (@newflow.tcp.tcp_flags)</div>

<!-- controls row -->
<svg class="abs" style="left:28px;top:179px" width="16" height="16" viewBox="0 0 16 16" fill="none" stroke="#3f78c0" stroke-width="1.4">
<rect x="0.8" y="0.8" width="14.4" height="14.4" rx="1.6"/><rect x="1.5" y="1.5" width="4" height="13" fill="#b5cfee" stroke="none"/><path d="M8 5L11 8L8 11" stroke-width="1.5"/>
</svg>
<div class="t" id="shc" style="left:50.0px;top:180.18px;font-size:14.5px;letter-spacing:0.2px;color:#2a66ad">Show Controls</div>
<div class="abs" style="left:162px;top:178px;width:1.5px;height:18px;background:#cfcfcf"></div>
<div class="abs" style="left:186px;top:176.5px;width:102.5px;height:21.5px;border:1px solid #e4e4e4;border-radius:2px"></div>
<div class="t" id="tms" style="left:194.0px;top:181.94px;font-size:12.3px;letter-spacing:0.111px;color:#222">Timeseries</div>
<div class="t" id="c1" style="left:306.9px;top:182.20px;font-size:12px;letter-spacing:0.314px;color:#777">Display:</div>
<div class="t" id="c2" style="left:366.4px;top:182.20px;font-size:12px;letter-spacing:0.167px;color:#222">Bars</div>
<div class="t" id="c3" style="left:436.9px;top:182.20px;font-size:12px;letter-spacing:0.28px;color:#777">Color:</div>
<div class="t" id="c4" style="left:485.4px;top:182.20px;font-size:12px;letter-spacing:-0.133px;color:#222">Classic</div>
<div class="t" id="c5" style="left:566.1px;top:182.20px;font-size:12px;letter-spacing:0.12px;color:#777">Stacked as:</div>
<div class="t" id="c6" style="left:645.4px;top:182.20px;font-size:12px;letter-spacing:0.075px;color:#222">Value</div>
<svg class="abs" style="left:0;top:0" width="700" height="788" viewBox="0 0 700 788" fill="#6a6a6a">
<path d="M271.3 185.5h8.6l-4.3 4.6z"/><path d="M409.2 185.5h8.6l-4.3 4.6z"/><path d="M539.7 185.5h8.6l-4.3 4.6z"/><path d="M692.5 185.5h8.6l-4.3 4.6z"/>
</svg>
<div id="edge"></div>
<div id="foot"></div>
<div class="abs" style="left:0;top:767.5px;width:8px;height:21px;background:linear-gradient(90deg,#cbcbcb 0,#d6d6d7 1.5px,#e4e4e5 3.5px,#eeeeef 6px,#f3f3f4 8px)"></div>
</div>

<div id="panel"></div>
<!-- panel content, absolute in page coords -->
<div class="abs" style="left:718px;top:24.2px;width:36.5px;height:21px;background:#e7e7e9;border-radius:3px"></div>
<div class="t" id="tenm" style="left:722.0px;top:27.84px;font-size:14.3px;letter-spacing:0.8px;color:#6a6a6a">10m</div>
<div class="t" id="dat" style="left:761.4px;top:27.84px;font-size:14.3px;letter-spacing:0.087px;color:#222">Nov 3, 5:31 pm – Nov 3, 5:41 pm</div>
<svg class="abs" style="left:1366px;top:12px" width="20" height="20" viewBox="0 0 20 20" stroke="#8a8a8a" stroke-width="1.4" fill="none"><path d="M2.4 2.6L18.2 18.2M18.2 2.6L2.4 18.2"/></svg>
<div class="abs" style="left:718px;top:59.7px;width:665px;height:1px;background:#e7e7e7"></div>
<svg class="abs" style="left:0;top:0" width="1400" height="200" viewBox="0 0 1400 200">
<rect x="750" y="96.1" width="632" height="1" fill="#f1f1f1"/>
<rect x="750.55" y="122.80" width="7.90" height="7.80" fill="#90c5e1"/><rect x="759.47" y="88.80" width="10.20" height="41.30" fill="#fff"/><rect x="760.67" y="88.80" width="7.90" height="41.80" fill="#90c5e1"/><rect x="769.60" y="81.30" width="10.20" height="48.80" fill="#fff"/><rect x="770.80" y="81.30" width="7.90" height="49.30" fill="#90c5e1"/><rect x="779.72" y="83.50" width="10.20" height="46.60" fill="#fff"/><rect x="780.92" y="83.50" width="7.90" height="47.10" fill="#90c5e1"/><rect x="789.85" y="87.80" width="10.20" height="42.30" fill="#fff"/><rect x="791.05" y="87.80" width="7.90" height="42.80" fill="#90c5e1"/><rect x="799.97" y="81.30" width="10.20" height="48.80" fill="#fff"/><rect x="801.17" y="81.30" width="7.90" height="49.30" fill="#90c5e1"/><rect x="810.10" y="83.50" width="10.20" height="46.60" fill="#fff"/><rect x="811.30" y="83.50" width="7.90" height="47.10" fill="#90c5e1"/><rect x="820.22" y="80.10" width="10.20" height="50.00" fill="#fff"/><rect x="821.42" y="80.10" width="7.90" height="50.50" fill="#90c5e1"/><rect x="830.35" y="88.80" width="10.20" height="41.30" fill="#fff"/><rect x="831.55" y="88.80" width="7.90" height="41.80" fill="#90c5e1"/><rect x="840.47" y="81.30" width="10.20" height="48.80" fill="#fff"/><rect x="841.67" y="81.30" width="7.90" height="49.30" fill="#90c5e1"/><rect x="850.60" y="84.40" width="10.20" height="45.70" fill="#fff"/><rect x="851.80" y="84.40" width="7.90" height="46.20" fill="#90c5e1"/><rect x="860.72" y="86.90" width="10.20" height="43.20" fill="#fff"/><rect x="861.92" y="86.90" width="7.90" height="43.70" fill="#90c5e1"/><rect x="870.85" y="81.30" width="10.20" height="48.80" fill="#fff"/><rect x="872.05" y="81.30" width="7.90" height="49.30" fill="#90c5e1"/><rect x="880.97" y="81.30" width="10.20" height="48.80" fill="#fff"/><rect x="882.17" y="81.30" width="7.90" height="49.30" fill="#90c5e1"/><rect x="891.10" y="83.50" width="10.20" height="46.60" fill="#fff"/><rect x="892.30" y="83.50" width="7.90" height="47.10" fill="#90c5e1"/><rect x="901.22" y="87.80" width="10.20" height="42.30" fill="#fff"/><rect x="902.42" y="87.80" width="7.90" height="42.80" fill="#90c5e1"/><rect x="911.35" y="81.30" width="10.20" height="48.80" fill="#fff"/><rect x="912.55" y="81.30" width="7.90" height="49.30" fill="#90c5e1"/><rect x="921.47" y="84.40" width="10.20" height="45.70" fill="#fff"/><rect x="922.67" y="84.40" width="7.90" height="46.20" fill="#90c5e1"/><rect x="931.60" y="87.80" width="10.20" height="42.30" fill="#fff"/><rect x="932.80" y="87.80" width="7.90" height="42.80" fill="#90c5e1"/><rect x="941.72" y="81.30" width="10.20" height="48.80" fill="#fff"/><rect x="942.92" y="81.30" width="7.90" height="49.30" fill="#90c5e1"/><rect x="951.85" y="81.30" width="10.20" height="48.80" fill="#fff"/><rect x="953.05" y="81.30" width="7.90" height="49.30" fill="#90c5e1"/><rect x="961.97" y="82.20" width="10.20" height="47.90" fill="#fff"/><rect x="963.17" y="82.20" width="7.90" height="48.40" fill="#90c5e1"/><rect x="972.10" y="90.00" width="10.20" height="40.10" fill="#fff"/><rect x="973.30" y="90.00" width="7.90" height="40.60" fill="#90c5e1"/><rect x="982.22" y="81.30" width="10.20" height="48.80" fill="#fff"/><rect x="983.42" y="81.30" width="7.90" height="49.30" fill="#90c5e1"/><rect x="992.35" y="84.40" width="10.20" height="45.70" fill="#fff"/><rect x="993.55" y="84.40" width="7.90" height="46.20" fill="#90c5e1"/><rect x="1002.47" y="81.30" width="10.20" height="48.80" fill="#fff"/><rect x="1003.67" y="81.30" width="7.90" height="49.30" fill="#90c5e1"/><rect x="1012.60" y="88.80" width="10.20" height="41.30" fill="#fff"/><rect x="1013.80" y="88.80" width="7.90" height="41.80" fill="#90c5e1"/><rect x="1022.72" y="82.20" width="10.20" height="47.90" fill="#fff"/><rect x="1023.92" y="82.20" width="7.90" height="48.40" fill="#90c5e1"/><rect x="1032.85" y="82.20" width="10.20" height="47.90" fill="#fff"/><rect x="1034.05" y="82.20" width="7.90" height="48.40" fill="#90c5e1"/><rect x="1042.97" y="92.10" width="10.20" height="38.00" fill="#fff"/><rect x="1044.17" y="92.10" width="7.90" height="38.50" fill="#90c5e1"/><rect x="1053.10" y="82.40" width="10.20" height="47.70" fill="#fff"/><rect x="1054.30" y="82.40" width="7.90" height="48.20" fill="#90c5e1"/><rect x="1063.22" y="87.00" width="10.20" height="43.10" fill="#fff"/><rect x="1064.42" y="87.00" width="7.90" height="43.60" fill="#90c5e1"/><rect x="1073.35" y="80.25" width="10.20" height="49.85" fill="#fff"/><rect x="1074.55" y="80.25" width="7.90" height="50.35" fill="#90c5e1"/><rect x="1083.47" y="92.00" width="10.20" height="38.10" fill="#fff"/><rect x="1084.67" y="92.00" width="7.90" height="38.60" fill="#90c5e1"/><rect x="1093.60" y="85.75" width="10.20" height="44.35" fill="#fff"/><rect x="1094.80" y="85.75" width="7.90" height="44.85" fill="#90c5e1"/><rect x="1103.72" y="84.75" width="10.20" height="45.35" fill="#fff"/><rect x="1104.92" y="84.75" width="7.90" height="45.85" fill="#90c5e1"/><rect x="1113.85" y="83.50" width="10.20" height="46.60" fill="#fff"/><rect x="1115.05" y="83.50" width="7.90" height="47.10" fill="#90c5e1"/><rect x="1123.97" y="90.00" width="10.20" height="40.10" fill="#fff"/><rect x="1125.17" y="90.00" width="7.90" height="40.60" fill="#90c5e1"/><rect x="1134.10" y="84.75" width="10.20" height="45.35" fill="#fff"/><rect x="1135.30" y="84.75" width="7.90" height="45.85" fill="#90c5e1"/><rect x="1144.22" y="88.00" width="10.20" height="42.10" fill="#fff"/><rect x="1145.42" y="88.00" width="7.90" height="42.60" fill="#90c5e1"/><rect x="1154.35" y="83.50" width="10.20" height="46.60" fill="#fff"/><rect x="1155.55" y="83.50" width="7.90" height="47.10" fill="#90c5e1"/><rect x="1164.47" y="93.25" width="10.20" height="36.85" fill="#fff"/><rect x="1165.67" y="93.25" width="7.90" height="37.35" fill="#90c5e1"/><rect x="1174.60" y="85.75" width="10.20" height="44.35" fill="#fff"/><rect x="1175.80" y="85.75" width="7.90" height="44.85" fill="#90c5e1"/><rect x="1184.72" y="88.00" width="10.20" height="42.10" fill="#fff"/><rect x="1185.92" y="88.00" width="7.90" height="42.60" fill="#90c5e1"/><rect x="1194.85" y="85.75" width="10.20" height="44.35" fill="#fff"/><rect x="1196.05" y="85.75" width="7.90" height="44.85" fill="#90c5e1"/><rect x="1204.97" y="93.25" width="10.20" height="36.85" fill="#fff"/><rect x="1206.17" y="93.25" width="7.90" height="37.35" fill="#90c5e1"/><rect x="1215.10" y="87.00" width="10.20" height="43.10" fill="#fff"/><rect x="1216.30" y="87.00" width="7.90" height="43.60" fill="#90c5e1"/><rect x="1225.22" y="88.00" width="10.20" height="42.10" fill="#fff"/><rect x="1226.42" y="88.00" width="7.90" height="42.60" fill="#90c5e1"/><rect x="1235.35" y="88.00" width="10.20" height="42.10" fill="#fff"/><rect x="1236.55" y="88.00" width="7.90" height="42.60" fill="#90c5e1"/><rect x="1245.47" y="90.00" width="10.20" height="40.10" fill="#fff"/><rect x="1246.67" y="90.00" width="7.90" height="40.60" fill="#90c5e1"/><rect x="1255.60" y="94.50" width="10.20" height="35.60" fill="#fff"/><rect x="1256.80" y="94.50" width="7.90" height="36.10" fill="#90c5e1"/><rect x="1265.72" y="89.00" width="10.20" height="41.10" fill="#fff"/><rect x="1266.92" y="89.00" width="7.90" height="41.60" fill="#90c5e1"/><rect x="1275.85" y="89.00" width="10.20" height="41.10" fill="#fff"/><rect x="1277.05" y="89.00" width="7.90" height="41.60" fill="#90c5e1"/><rect x="1285.97" y="91.25" width="10.20" height="38.85" fill="#fff"/><rect x="1287.17" y="91.25" width="7.90" height="39.35" fill="#90c5e1"/><rect x="1296.10" y="96.75" width="10.20" height="33.35" fill="#fff"/><rect x="1297.30" y="96.75" width="7.90" height="33.85" fill="#90c5e1"/><rect x="1306.22" y="90.00" width="10.20" height="40.10" fill="#fff"/><rect x="1307.42" y="90.00" width="7.90" height="40.60" fill="#90c5e1"/><rect x="1316.35" y="90.00" width="10.20" height="40.10" fill="#fff"/><rect x="1317.55" y="90.00" width="7.90" height="40.60" fill="#90c5e1"/><rect x="1326.47" y="91.25" width="10.20" height="38.85" fill="#fff"/><rect x="1327.67" y="91.25" width="7.90" height="39.35" fill="#90c5e1"/><rect x="1336.60" y="92.25" width="10.20" height="37.85" fill="#fff"/><rect x="1337.80" y="92.25" width="7.90" height="38.35" fill="#90c5e1"/><rect x="1346.72" y="99.00" width="10.20" height="31.10" fill="#fff"/><rect x="1347.92" y="99.00" width="7.90" height="31.60" fill="#90c5e1"/><rect x="1356.85" y="92.25" width="10.20" height="37.85" fill="#fff"/><rect x="1358.05" y="92.25" width="7.90" height="38.35" fill="#90c5e1"/><rect x="1366.97" y="92.25" width="10.20" height="37.85" fill="#fff"/><rect x="1368.17" y="92.25" width="7.90" height="38.35" fill="#90c5e1"/><rect x="1377.10" y="115.00" width="4.90" height="15.10" fill="#fff"/><rect x="1378.30" y="115.00" width="3.70" height="15.60" fill="#90c5e1"/>
<rect x="750" y="130.2" width="632" height="0.9" fill="#b0b0b0"/>
<rect x="810.80" y="131" width="1" height="4.6" fill="#999"/><rect x="871.55" y="131" width="1" height="4.6" fill="#999"/><rect x="932.30" y="131" width="1" height="4.6" fill="#999"/><rect x="993.05" y="131" width="1" height="4.6" fill="#999"/><rect x="1053.80" y="131" width="1" height="4.6" fill="#999"/><rect x="1114.55" y="131" width="1" height="4.6" fill="#999"/><rect x="1175.30" y="131" width="1" height="4.6" fill="#999"/><rect x="1236.05" y="131" width="1" height="4.6" fill="#999"/><rect x="1296.80" y="131" width="1" height="4.6" fill="#999"/><rect x="1357.55" y="131" width="1" height="4.6" fill="#999"/>
</svg>
<div class="abs" style="left:717px;top:89px;width:30.5px;text-align:right;font-size:10.6px;line-height:16px;color:#2b2b2b">5K</div>
<div class="abs" style="left:717px;top:123px;width:30.5px;text-align:right;font-size:10.6px;line-height:16px;color:#2b2b2b">0K</div>
<div class="abs" style="left:749.6px;top:136px;font-size:10.4px;line-height:16px;color:#2b2b2b">:31</div>
<div class="mxl" style="left:781.30px">17:32</div><div class="mxl" style="left:842.05px">17:33</div><div class="mxl" style="left:902.80px">17:34</div><div class="mxl" style="left:963.55px">17:35</div><div class="mxl" style="left:1024.30px">17:36</div><div class="mxl" style="left:1085.05px">17:37</div><div class="mxl" style="left:1145.80px">17:38</div><div class="mxl" style="left:1206.55px">17:39</div><div class="mxl" style="left:1267.30px">17:40</div><div class="mxl" style="left:1328.05px">17:41</div>
<div class="t" id="res" style="left:717.5px;top:172.68px;font-size:14.5px;letter-spacing:0.04px;color:#1e1e1e;font-weight:bold">395,884 results found</div>
<div class="abs" style="left:1352.1px;top:163.2px;width:30.7px;height:30.7px;border:1px solid #e8e8e8;border-radius:2.5px"></div>
<svg class="abs" style="left:0;top:0" width="1400" height="200" viewBox="0 0 1400 200"><path d="M1372.09 176.88L1374.00 177.18L1374.00 179.42L1372.09 179.72L1371.75 180.54L1372.89 182.11L1371.31 183.69L1369.74 182.55L1368.92 182.89L1368.62 184.80L1366.38 184.80L1366.08 182.89L1365.26 182.55L1363.69 183.69L1362.11 182.11L1363.25 180.54L1362.91 179.72L1361.00 179.42L1361.00 177.18L1362.91 176.88L1363.25 176.06L1362.11 174.49L1363.69 172.91L1365.26 174.05L1366.08 173.71L1366.38 171.80L1368.62 171.80L1368.92 173.71L1369.74 174.05L1371.31 172.91L1372.89 174.49L1371.75 176.06ZM1369.70 178.30A2.2 2.2 0 1 0 1365.30 178.30A2.2 2.2 0 1 0 1369.70 178.30Z" fill="#56616b" fill-rule="evenodd" stroke="#56616b" stroke-width="0.4" stroke-linejoin="round"/></svg>

<!-- table -->
<div class="abs" style="left:717.5px;top:203.2px;width:665px;height:600px;border:1px solid #e9e9e9;border-radius:2px"></div>
<div class="abs" style="left:718.5px;top:234px;width:663px;height:1px;background:#dedede"></div>
<svg class="abs" style="left:751px;top:211.500px" width="10" height="12" viewBox="0 0 10 12" fill="none" stroke="#222" stroke-width="1.6"><path d="M5 0.5V10.5M1.2 6.800L5 10.600L8.800 6.800"/></svg>
<div class="t" id="h1" style="left:769.0px;top:212.53px;font-size:12.2px;letter-spacing:0.1px;color:#1e1e1e;font-weight:bold">DATE</div>
<div class="t" id="h2" style="left:909.8px;top:212.53px;font-size:12.2px;letter-spacing:0.167px;color:#1e1e1e;font-weight:bold">HOST</div>
<div class="t" id="h3" style="left:981.5px;top:212.53px;font-size:12.2px;letter-spacing:-0.2px;color:#1e1e1e;font-weight:bold">SERVICE</div>
<div class="t" id="h4" style="left:1155.5px;top:212.53px;font-size:12.2px;letter-spacing:-0.4px;color:#1e1e1e;font-weight:bold">TCP FLAGS</div>
<div class="row" style="top:234.5px">
<div class="rb"></div>
<div class="rh"><span style="left:746.2px">Nov 03 17:41:23.367</span><em style="left:903px"></em><span style="left:910.9px">no-host</span><em style="left:974.9px"></em><span style="left:983.5px">aws-network-firewall</span><em style="left:1148px"></em><span style="left:1156.2px">04</span></div>
<div class="js">{"<b>src_ip</b>":"218.120.117.46","<b>dest_ip</b>":"139.219.218.149","<b>newflow</b>":{"<b>tcp</b>":</div><div class="js">{"<b>rst</b>":true,"<b>psh</b>":false,"<b>tcp_flags</b>":"04","<b>ack</b>":false,"<b>syn</b>":false,"<b>fin</b>":false,"<b>u</b></div><div class="js l3"><b>rg</b>":false},"<b>bytes</b>":<i>1966050</i>,"<b>pkts</b>":<i>30</i>,"<b>start</b>":"2020-11-03 22:41:22.791665176<span class="fade"></span><span class="ell">…</span></div></div><div class="row" style="top:339.5px">
<div class="rb"></div>
<div class="rh"><span style="left:746.2px">Nov 03 17:41:23.366</span><em style="left:903px"></em><span style="left:910.9px">no-host</span><em style="left:974.9px"></em><span style="left:983.5px">aws-network-firewall</span><em style="left:1148px"></em><span style="left:1156.2px">04</span></div>
<div class="js">{"<b>src_ip</b>":"60.60.73.92","<b>dest_ip</b>":"218.127.244.3","<b>newflow</b>":{"<b>tcp</b>":</div><div class="js">{"<b>rst</b>":true,"<b>psh</b>":false,"<b>tcp_flags</b>":"04","<b>ack</b>":false,"<b>syn</b>":false,"<b>fin</b>":false,"<b>u</b></div><div class="js l3"><b>rg</b>":false},"<b>bytes</b>":<i>1966050</i>,"<b>pkts</b>":<i>30</i>,"<b>start</b>":"2020-11-03 22:41:22.791115919<span class="fade"></span><span class="ell">…</span></div></div><div class="row" style="top:444.5px">
<div class="rb"></div>
<div class="rh"><span style="left:746.2px">Nov 03 17:41:23.366</span><em style="left:903px"></em><span style="left:910.9px">no-host</span><em style="left:974.9px"></em><span style="left:983.5px">aws-network-firewall</span><em style="left:1148px"></em><span style="left:1156.2px">04</span></div>
<div class="js">{"<b>src_ip</b>":"35.128.66.120","<b>dest_ip</b>":"145.103.248.230","<b>newflow</b>":{"<b>tcp</b>":</div><div class="js">{"<b>rst</b>":true,"<b>psh</b>":false,"<b>tcp_flags</b>":"04","<b>ack</b>":false,"<b>syn</b>":false,"<b>fin</b>":false,"<b>u</b></div><div class="js l3"><b>rg</b>":false},"<b>bytes</b>":<i>1966050</i>,"<b>pkts</b>":<i>30</i>,"<b>start</b>":"2020-11-03 22:41:22.791235878<span class="fade"></span><span class="ell">…</span></div></div><div class="row" style="top:549.5px">
<div class="rb"></div>
<div class="rh"><span style="left:746.2px">Nov 03 17:41:23.366</span><em style="left:903px"></em><span style="left:910.9px">no-host</span><em style="left:974.9px"></em><span style="left:983.5px">aws-network-firewall</span><em style="left:1148px"></em><span style="left:1156.2px">04</span></div>
<div class="js">{"<b>src_ip</b>":"175.127.19.137","<b>dest_ip</b>":"108.200.120.104","<b>newflow</b>":{"<b>tcp</b>":</div><div class="js">{"<b>rst</b>":true,"<b>psh</b>":false,"<b>tcp_flags</b>":"04","<b>ack</b>":false,"<b>syn</b>":false,"<b>fin</b>":false,"<b>u</b></div><div class="js l3"><b>rg</b>":false},"<b>bytes</b>":<i>1966050</i>,"<b>pkts</b>":<i>30</i>,"<b>start</b>":"2020-11-03 22:41:22.790999823<span class="fade"></span><span class="ell">…</span></div></div><div class="row" style="top:654.5px">
<div class="rb"></div>
<div class="rh"><span style="left:746.2px">Nov 03 17:41:23.366</span><em style="left:903px"></em><span style="left:910.9px">no-host</span><em style="left:974.9px"></em><span style="left:983.5px">aws-network-firewall</span><em style="left:1148px"></em><span style="left:1156.2px">04</span></div>
<div class="js">{"<b>src_ip</b>":"222.188.69.2","<b>dest_ip</b>":"152.68.136.57","<b>newflow</b>":{"<b>tcp</b>":</div><div class="js">{"<b>rst</b>":true,"<b>psh</b>":false,"<b>tcp_flags</b>":"04","<b>ack</b>":false,"<b>syn</b>":false,"<b>fin</b>":false,"<b>u</b></div><div class="js l3"><b>rg</b>":false},"<b>bytes</b>":<i>1966050</i>,"<b>pkts</b>":<i>30</i>,"<b>start</b>":"2020-11-03 22:41:22.791313373<span class="fade"></span><span class="ell">…</span></div></div><div class="row" style="top:759.5px">
<div class="rb"></div>
<div class="rh"><span style="left:746.2px">Nov 03 17:41:23.366</span><em style="left:903px"></em><span style="left:910.9px">no-host</span><em style="left:974.9px"></em><span style="left:983.5px">aws-network-firewall</span><em style="left:1148px"></em><span style="left:1156.2px">04</span></div>
</div>
<style>
.cs{top:181px;font-size:12.5px;color:#222}
.th{top:211.3px;font-size:13px;font-weight:bold;color:#1e1e1e}
</style>
</body></html>
